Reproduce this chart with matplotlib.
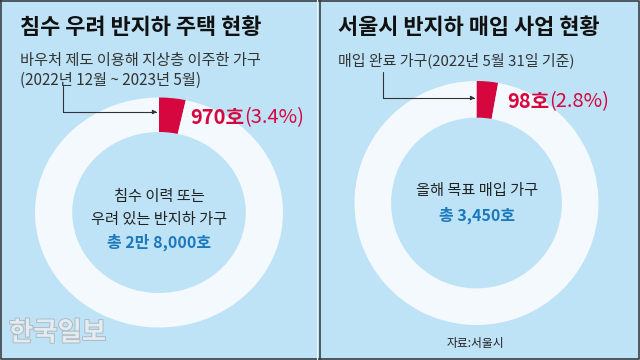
import matplotlib
matplotlib.use('Agg')
import matplotlib.pyplot as plt
from matplotlib import rcParams
import matplotlib.patheffects as pe

rcParams['font.family'] = ['Noto Sans CJK KR', 'DejaVu Sans']

# ---- data ----
titles = ['침수 우려 반지하 주택 현황', '서울시 반지하 매입 사업 현황']
subtitles = ['바우처 제도 이용해 지상층 이주한 가구\n(2022년 12월 ~ 2023년 5월)',
             '매입 완료 가구(2022년 5월 31일 기준)']
totals = [28000, 3450]
parts = [970, 98]
part_labels = ['970호', '98호']
pct_labels = ['(3.4%)', '(2.8%)']
center_labels = ['침수 이력 또는\n우려 있는 반지하 가구', '올해 목표 매입 가구']
total_labels = ['총 2만 8,000호', '총 3,450호']
source = '자료:서울시'

# ---- colours ----
bg = '#bee3f6'
ringcol = '#f4f9fd'
red = '#d6073e'
blue = '#1c78bd'
dark = '#222222'

W, H = 640, 360
fig = plt.figure(figsize=(6.4, 3.6), dpi=100)
fig.patch.set_facecolor(bg)

def pix_axes(x0, top, w, h):
    # axes from pixel box (top-left origin)
    return fig.add_axes([x0 / W, (H - top - h) / H, w / W, h / H])

# donut boxes: left, top, width, height in pixels
boxes = [(35, 97.5, 248, 230), (354.5, 81, 244, 244)]
for i in range(2):
    ax = pix_axes(*boxes[i])
    ax.pie([parts[i], totals[i] - parts[i]], colors=[red, ringcol],
           startangle=90, counterclock=False,
           wedgeprops=dict(width=0.3, linewidth=0))
    ax.set_aspect('auto')
    ax.set_xlim(-1, 1)
    ax.set_ylim(-1, 1)
    ax.axis('off')

# overlay in pixel coordinates
ov = fig.add_axes([0, 0, 1, 1], zorder=10)
ov.set_xlim(0, W)
ov.set_ylim(H, 0)
ov.axis('off')
ov.patch.set_alpha(0)

# borders
ov.plot([1, 639, 639, 1, 1], [1, 1, 359, 359, 1], color='#3a3f44', lw=1.2)
ov.plot([317, 317], [0, 360], color='#e6f4fb', lw=0.8)
ov.plot([320, 320], [0, 360], color='#3a3f44', lw=1.2)

lefts = [20, 338]
sub_fs = [11, 10.8]
for i in range(2):
    x0 = lefts[i]
    ov.text(x0, 28, titles[i], fontsize=15.8, fontweight='bold', color='#111111',
            va='center', ha='left')
    ov.text(x0, 52, subtitles[i], fontsize=sub_fs[i], color='#333333',
            va='top', ha='left', linespacing=1.2)

# arrows: down from the subtitle, then right to the red slice
arrow_props = dict(arrowstyle='-|>', color='#333333', lw=0.8,
                   mutation_scale=6, shrinkA=0, shrinkB=0,
                   connectionstyle='angle,angleA=90,angleB=0,rad=0')
ov.annotate('', xy=(157, 112), xytext=(63, 86), arrowprops=arrow_props)
ov.annotate('', xy=(475, 98), xytext=(383, 72), arrowprops=arrow_props)

# part labels
label_pos = [(190, 118), (507, 102)]
for i in range(2):
    t = ov.text(label_pos[i][0], label_pos[i][1], part_labels[i], fontsize=14.5,
                fontweight='bold', color=red, va='center', ha='left')
    ov.annotate(pct_labels[i], xy=(1, 0.5), xycoords=t, fontsize=14.5,
                color=red, va='center', ha='left')

# centre labels
ov.text(159, 208, center_labels[0], fontsize=11, color=dark, ha='center',
        va='center', linespacing=1.45)
ov.text(159, 242, total_labels[0], fontsize=11.5, fontweight='bold', color=blue,
        ha='center', va='center')
ov.text(477, 190, center_labels[1], fontsize=11, color=dark, ha='center', va='center')
ov.text(477, 215, total_labels[1], fontsize=11.5, fontweight='bold', color=blue,
        ha='center', va='center')

ov.text(475, 343, source, fontsize=8.5, color=dark, ha='center', va='center')

# watermark
ov.text(9, 333, '한국일보', fontsize=19, fontweight='bold', color='#e6eef3',
        alpha=0.9, ha='left', va='center',
        path_effects=[pe.withStroke(linewidth=1.3, foreground='#a8b4bb')])

fig.savefig('out.png', dpi=100, facecolor=bg)
